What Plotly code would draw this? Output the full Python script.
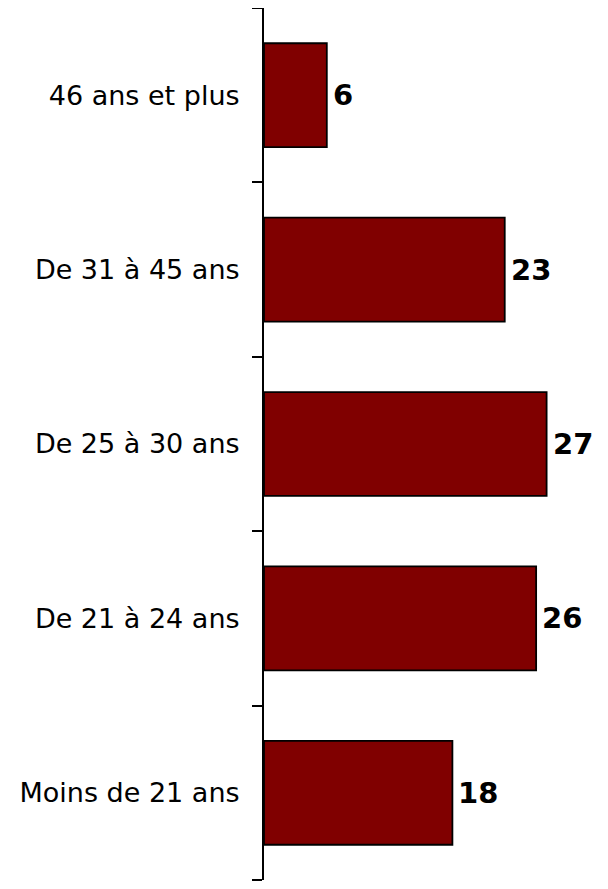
import plotly.graph_objects as go

categories = ["Moins de 21 ans", "De 21 à 24 ans", "De 25 à 30 ans", "De 31 à 45 ans", "46 ans et plus"]
values = [18, 26, 27, 23, 6]

fig = go.Figure()
fig.add_trace(go.Bar(
    y=categories,
    x=values,
    orientation="h",
    marker=dict(color="#800000", line=dict(color="black", width=1.8)),
    hoverinfo="skip",
))

for c, v in zip(categories, values):
    fig.add_annotation(
        x=v, y=c, xref="x", yref="y",
        text=str(v), showarrow=False,
        xanchor="left", yanchor="middle", xshift=4,
        font=dict(family="DejaVu Sans", size=29, color="black", weight="bold"),
    )

fig.update_layout(
    width=600, height=881,
    margin=dict(l=256, r=30, t=0, b=9),
    paper_bgcolor="white", plot_bgcolor="white",
    showlegend=False,
    bargap=0.404,
    xaxis=dict(range=[0, 30], visible=False, fixedrange=True),
    yaxis=dict(
        type="category",
        categoryorder="array", categoryarray=categories,
        range=[-0.5, 4.5],
        showline=True, linecolor="black", linewidth=2,
        ticks="outside", ticklen=10, tickwidth=2, tickcolor="black",
        tickson="boundaries",
        ticklabelstandoff=17,
        automargin=False,
        showgrid=False, zeroline=False,
        tickfont=dict(family="DejaVu Sans", size=27, color="black"),
    ),
)

fig.write_html("out.html")
